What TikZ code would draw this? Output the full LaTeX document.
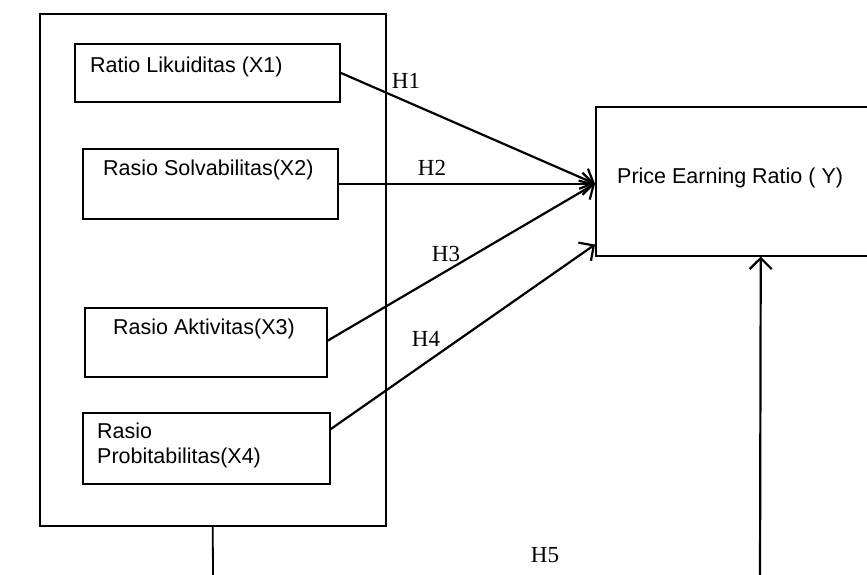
\documentclass[tikz,border=0pt]{standalone}
\usepackage{fontspec}
\setmainfont{Liberation Serif}
\setsansfont{Liberation Sans}
\usetikzlibrary{arrows.meta}

\tikzset{
  box/.style={draw, line width=1.5pt, inner sep=0pt, anchor=north west},
  boxtext/.style={anchor=base west, inner sep=0pt, align=left,
    font=\sffamily\fontsize{21.5}{25}\selectfont},
  hyp/.style={inner sep=0pt, font=\fontsize{23}{25}\selectfont},
  link/.style={line width=2.2pt, -{Straight Barb[length=11pt, width=22pt]}},
}

\begin{document}
\begin{tikzpicture}[x=1pt, y=-1pt]
  \useasboundingbox (0, 0) rectangle (867, 574);
  \clip (0, 0) rectangle (867, 574);
  \fill[white] (0, 0) rectangle (867, 574);

  % independent variables
  \node[box, minimum width=346pt, minimum height=512pt] (outer) at (39, 13) {};
  \node[box, minimum width=265pt, minimum height=58pt] (x1) at (74, 43) {};
  \node[box, minimum width=255pt, minimum height=70pt] (x2) at (82, 148) {};
  \node[box, minimum width=242pt, minimum height=69pt] (x3) at (84, 307) {};
  \node[box, minimum width=247pt, minimum height=71pt] (x4) at (82, 412) {};

  \node[boxtext] (x1t) at (90, 72) {Ratio Likuiditas (X1)};
  \node[boxtext] (x2t) at (103, 175) {Rasio Solvabilitas(X2)};
  \node[boxtext] (x3t) at (113, 334) {Rasio Aktivitas(X3)};
  \node[boxtext] (x4t) at (97, 463) {Rasio\\Probitabilitas(X4)};

  % dependent variable
  \node[box, minimum width=330pt, minimum height=149pt] (pe) at (595, 106) {};
  \node[boxtext] (pet) at (617, 183) {Price Earning Ratio ( Y)};

  \coordinate (in) at ([yshift=-2.5pt]pe.west);
  \draw[link] (x1.east) -- (in);
  \draw[link] (x2.east) -- (in);
  \draw[link] ([yshift=1.5pt]x3.east) -- (in);
  \draw[link] ([yshift=19pt]x4.east) -- ([yshift=12pt]pe.south west);

  \coordinate (b1) at (213, 580);
  \coordinate (b2) at (760, 580);
  \draw[line width=1.8pt] (outer.south) -- (b1);
  \draw[link] (b2) -- (pe.south);

  \foreach \i/\x/\y in {1/406/81, 2/432/168, 3/446/254, 4/426/339, 5/545/555} {
      \node[hyp] (h\i) at (\x, \y) {H\i};
    }
\end{tikzpicture}
\end{document}
